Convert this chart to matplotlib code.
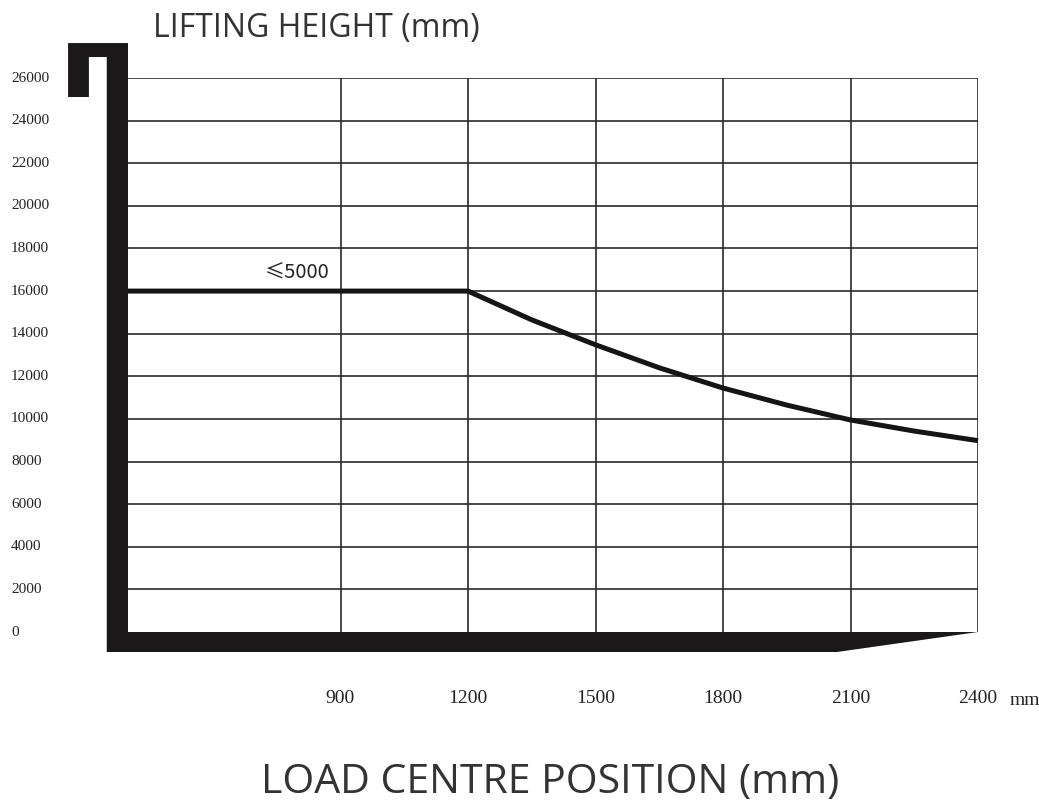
import numpy as np
import matplotlib.pyplot as plt
from matplotlib.patches import Polygon
from matplotlib.transforms import blended_transform_factory

# load centre (mm) vs allowed lifting height (mm)
load_centre = [400, 900, 1200, 1350, 1500, 1650, 1800, 1950, 2100, 2250, 2400]
lift_height = [16000, 16000, 16000, 14650, 13480, 12400, 11450, 10650, 9950, 9430, 8980]

x_ticks = [900, 1200, 1500, 1800, 2100, 2400]
y_ticks = list(range(0, 26001, 2000))
curve_label = "≤5000"

W, H = 1039, 811
fig = plt.figure(figsize=(W / 100, H / 100), dpi=100)
ax = fig.add_axes([128 / W, 1 - 632 / H, (978 - 128) / W, (632 - 78) / H])
ax.set_xlim(400, 2400)
ax.set_ylim(0, 26000)
for s in ax.spines.values():
    s.set_visible(False)

grid_kw = dict(color='#2a2a2a', lw=1.2, zorder=1)
for y in y_ticks[1:]:
    ax.axhline(y, **grid_kw)
for x in x_ticks:
    ax.axvline(x, **grid_kw)

# mast + forks outline (in data units)
mast = [(259, 27640), (400, 27640), (400, 0), (2400, 0), (2068, -939),
        (350, -939), (350, 26985), (308, 26985), (308, 25108), (259, 25108)]
ax.add_patch(Polygon(mast, closed=True, color='#1a1818', lw=0,
                     clip_on=False, zorder=3))

ax.plot(load_centre, lift_height, color='#151515', lw=3.6,
        solid_capstyle='butt', clip_on=False, zorder=4)
ax.text(875, 16350, curve_label, ha='right', va='bottom', fontsize=14.5,
        family=['Noto Sans CJK SC', 'DejaVu Sans'], color='#222')

# tick labels
ax.set_xticks(x_ticks)
ax.set_xticklabels([str(v) for v in x_ticks], family='Liberation Serif',
                   fontsize=14, color='#222')
ax.tick_params(axis='x', length=0, pad=41.5)
ax.set_yticks([])
tr = blended_transform_factory(fig.transFigure, ax.transData)
for v in y_ticks:
    ax.text(11 / W, v, str(v), transform=tr, ha='left', va='center',
            family='Liberation Serif', fontsize=11, color='#222')
ax.annotate('mm', xy=(2400, 0), xytext=(23, -52.5), textcoords='offset points',
            ha='left', va='baseline', family='Liberation Serif', fontsize=14,
            color='#222')

fig.text(153 / W, 1 - 28 / H, 'LIFTING HEIGHT (mm)', ha='left', va='center',
         family='Open Sans', fontsize=23, color='#333')
fig.text(550 / W, 1 - 783 / H, 'LOAD CENTRE POSITION (mm)', ha='center',
         va='center', family='Open Sans', fontsize=29.5, color='#333')

fig.savefig('out.png', dpi=100)
